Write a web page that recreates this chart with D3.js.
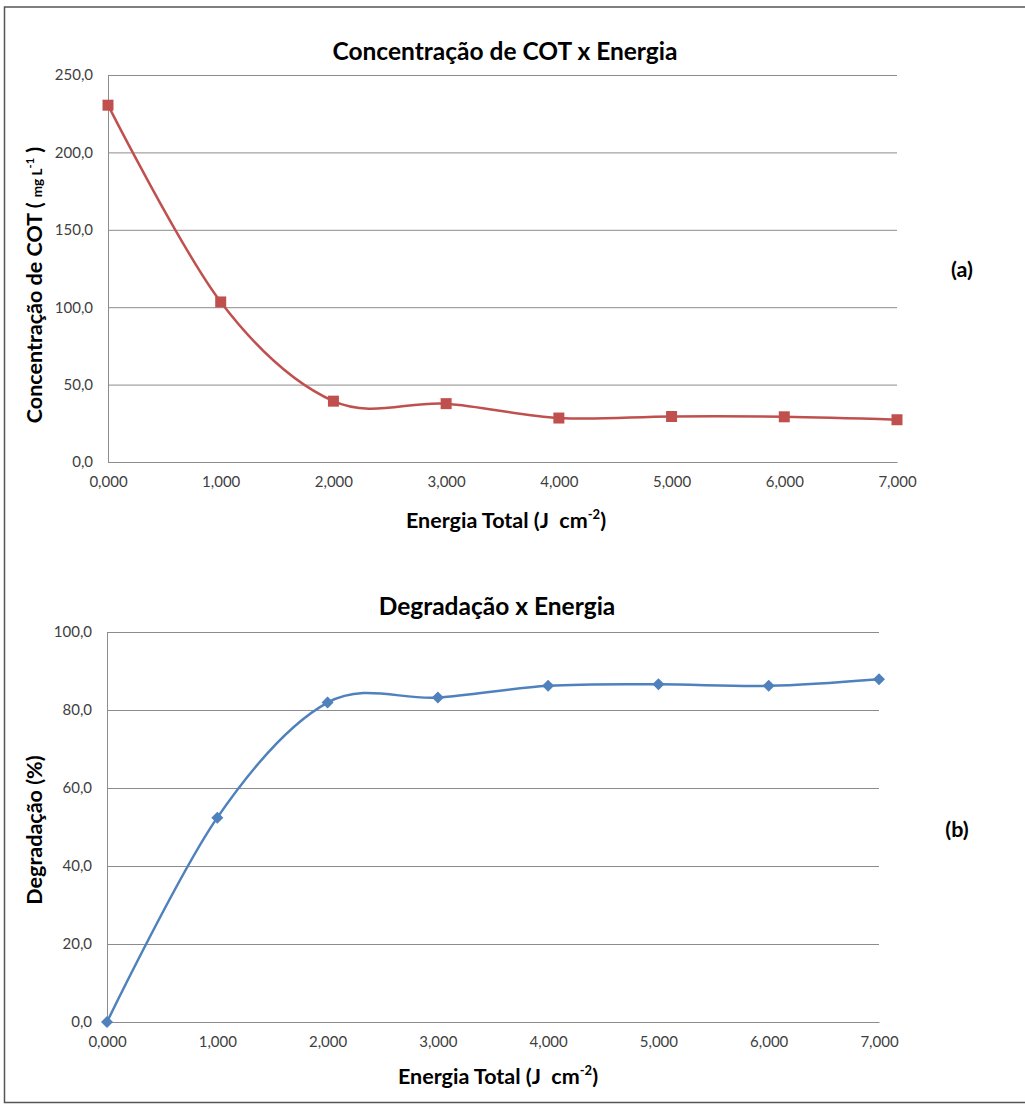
<!DOCTYPE html>
<html><head><meta charset="utf-8">
<script src="https://cdn.jsdelivr.net/npm/d3@7"></script>
<style>body{margin:0;background:#fff}</style>
</head><body>
<svg id="c" width="1025" height="1105"></svg>
<script>
const energy = [0, 1000, 2000, 3000, 4000, 5000, 6000, 7000];
const cot = [230.5, 103.4, 39.3, 37.7, 28.4, 29.4, 29.2, 27.3];
const degradacao = [0, 52.4, 81.9, 83.2, 86.2, 86.6, 86.2, 87.9];
const xTickLabels = ["0,000", "1,000", "2,000", "3,000", "4,000", "5,000", "6,000", "7,000"];
const cotTicks = [0, 50, 100, 150, 200, 250];
const cotTickLabels = ["0,0", "50,0", "100,0", "150,0", "200,0", "250,0"];
const degTicks = [0, 20, 40, 60, 80, 100];
const degTickLabels = ["0,0", "20,0", "40,0", "60,0", "80,0", "100,0"];

const FONT = "Lato, 'Open Sans', sans-serif";
const LBL = 21.5;
const svg = d3.select("#c");
svg.append("rect").attr("x", 4.5).attr("y", 7).attr("width", 1030).attr("height", 1095.5)
  .attr("fill", "#fff").attr("stroke", "#555").attr("stroke-width", 1.5);

function panel(o) {
  const x = d3.scaleLinear().domain([0, 7000]).range([o.left, o.right]);
  const y = d3.scaleLinear().domain([0, o.max]).range([o.bottom, o.top]);
  const g = svg.append("g");
  const ya = g.append("g").attr("transform", `translate(${o.left},0)`)
    .call(d3.axisLeft(y).tickValues(o.ticks).tickSize(-(o.right - o.left)).tickPadding(15)
      .tickFormat((d, i) => o.tickLabels[i]));
  ya.select(".domain").attr("stroke", "#8c8c8c");
  ya.selectAll(".tick line").attr("stroke", "#8c8c8c");
  ya.selectAll(".tick text").attr("font-family", FONT).attr("font-size", 15).attr("fill", "#404040");
  const xa = g.append("g").attr("transform", `translate(0,${o.bottom})`)
    .call(d3.axisBottom(x).tickValues(energy).tickSize(0).tickPadding(14)
      .tickFormat((d, i) => xTickLabels[i]));
  xa.select(".domain").attr("stroke", "#8c8c8c");
  xa.selectAll(".tick text").attr("font-family", FONT).attr("font-size", 15).attr("fill", "#404040");

  const line = d3.line().x((d, i) => x(energy[i])).y(d => y(d)).curve(d3.curveCardinal.tension(0));
  g.append("path").datum(o.values).attr("d", line).attr("fill", "none")
    .attr("stroke", o.color).attr("stroke-width", 2.5);
  g.selectAll(".m").data(o.values).enter().append("path")
    .attr("transform", (d, i) => `translate(${x(energy[i])},${y(d)}) rotate(${o.rot})`)
    .attr("d", d3.symbol().type(d3.symbolSquare).size(o.msize)())
    .attr("fill", o.color);

  g.append("text").attr("x", o.titleX).attr("y", o.titleY).attr("text-anchor", "middle")
    .attr("font-family", FONT).attr("font-weight", "bold").attr("font-size", 24.5).attr("fill", "#000")
    .text(o.title);
  const xl = g.append("text").attr("x", o.xlX).attr("y", o.xlY).attr("text-anchor", "middle")
    .attr("font-family", FONT).attr("font-weight", "bold").attr("font-size", LBL).attr("fill", "#000")
    .attr("xml:space", "preserve").style("white-space", "pre");
  xl.append("tspan").text("Energia Total (J  cm");
  xl.append("tspan").attr("font-size", 13).attr("dy", -9).text("-2");
  xl.append("tspan").attr("dy", 9).text(")");
  g.append("text").attr("x", o.letterX).attr("y", o.letterY).attr("text-anchor", "middle")
    .attr("font-family", FONT).attr("font-weight", "bold").attr("font-size", LBL).attr("fill", "#000")
    .text(o.letter);
  return g;
}

panel({left: 108, right: 897, top: 75, bottom: 462, max: 250, ticks: cotTicks, tickLabels: cotTickLabels,
  values: cot, color: "#C0504D", rot: 0, msize: 121, title: "Concentração de COT x Energia",
  titleX: 505, titleY: 60, xlX: 506, xlY: 528, letter: "(a)", letterX: 962, letterY: 277});
panel({left: 107, right: 879, top: 632, bottom: 1022, max: 100, ticks: degTicks, tickLabels: degTickLabels,
  values: degradacao, color: "#4F81BD", rot: 45, msize: 72, title: "Degradação x Energia",
  titleX: 497, titleY: 615, xlX: 498, xlY: 1084, letter: "(b)", letterX: 957, letterY: 837});

const yl1 = svg.append("text").attr("transform", "translate(42,285) rotate(-90)").attr("text-anchor", "middle")
  .attr("font-family", FONT).attr("font-weight", "bold").attr("font-size", LBL).attr("fill", "#000")
  .style("white-space", "pre");
yl1.append("tspan").text("Concentração de COT ( ");
yl1.append("tspan").attr("font-size", 13.5).text("mg L");
yl1.append("tspan").attr("font-size", 11).attr("dy", -8).text("-1");
yl1.append("tspan").attr("dy", 8).text(" )");
svg.append("text").attr("transform", "translate(42,830) rotate(-90)").attr("text-anchor", "middle")
  .attr("font-family", FONT).attr("font-weight", "bold").attr("font-size", LBL).attr("fill", "#000")
  .text("Degradação (%)");
</script>
</body></html>
